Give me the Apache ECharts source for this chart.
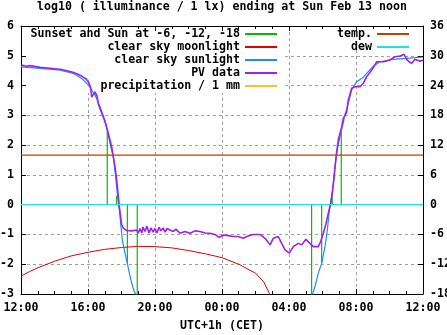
<!DOCTYPE html>
<html><head><meta charset="utf-8">
<script src="https://cdn.jsdelivr.net/npm/echarts@6/dist/echarts.min.js"></script>
<style>html,body{margin:0;padding:0;background:#fff}#c{width:447px;height:335px}</style>
</head><body><div id="c"></div>
<script>
// hours after Sat 12:00 (CET)
const xTickLabels = ['12:00','16:00','20:00','00:00','04:00','08:00','12:00'];

const sunEventHours  = [5.15, 5.71, 6.35, 6.94, 17.35, 17.95, 18.58, 19.12];
const sunEventValues = [2.51, 0.30, -1.97, -3.5, -3.5, -1.97, 0.40, 2.45];

const moonHours  = [0, 0.5, 1, 2, 3, 4, 5, 6, 7, 8, 9, 10, 11, 12, 13, 14, 14.5, 14.8, 15.0];
const moonValues = [-2.40, -2.25, -2.12, -1.90, -1.72, -1.60, -1.50, -1.44, -1.40, -1.41, -1.45, -1.54, -1.65, -1.78, -2.00, -2.30, -2.60, -2.95, -3.30];

const sunHours  = [0, 1.13, 2.33, 3.12, 3.62, 4.02, 4.42, 4.72, 5.01, 5.15, 5.31, 5.51, 5.65, 5.77, 5.87, 5.97, 6.05, 6.21, 6.35, 6.47, 6.61, 6.76, 6.87, 7.2,
                   17.2, 17.39, 17.55, 17.75, 17.95, 18.15, 18.29, 18.41, 18.55, 18.65, 18.75, 18.88, 19.04, 19.21, 19.34, 19.54, 19.74, 20.04, 20.44, 20.64, 21.03, 21.43, 22.23, 23.03, 23.82, 24];
const sunValues = [4.63, 4.58, 4.52, 4.41, 4.24, 4.02, 3.68, 3.29, 2.84, 2.51, 2.07, 1.61, 0.94, 0.27, -0.18, -0.74, -1.19, -1.63, -1.97, -2.30, -2.64, -2.92, -3.03, -3.6,
                   -3.6, -3.03, -2.75, -2.30, -1.97, -1.41, -0.85, -0.18, 0.27, 0.72, 1.28, 1.84, 2.28, 2.68, 3.01, 3.40, 3.85, 4.13, 4.28, 4.41, 4.65, 4.80, 4.88, 4.91, 4.95, 4.95];

const pvHours = [0, 0.12, 0.30, 0.54, 1.13, 1.73, 2.33, 2.75, 3.10, 3.40, 3.64, 3.88, 4.00, 4.15, 4.22, 4.32, 4.42, 4.54, 4.61, 4.82, 5.01, 5.21, 5.41, 5.51, 5.61, 5.71, 5.81, 5.87, 5.95, 6.01, 6.11, 6.31, 6.61, 6.91,
  7.00, 7.10, 7.21, 7.28, 7.40, 7.52, 7.64, 7.76, 7.88, 8.00, 8.12, 8.24, 8.36, 8.48, 8.60, 8.72, 8.90, 9.09, 9.25, 9.49, 9.79, 10.09, 10.39, 10.69, 10.99, 11.28, 11.58, 11.82, 12.08, 12.36, 12.67, 12.96, 13.27, 13.55, 13.87,
  14.27, 14.57, 14.87, 15.06, 15.36, 15.56, 15.76, 16.02, 16.26, 16.55, 16.76, 17.01, 17.25, 17.45, 17.75, 17.89, 18.05, 18.21, 18.35, 18.49, 18.61, 18.71, 18.81, 18.94, 19.15, 19.24, 19.44, 19.54, 19.74, 19.94,
  20.24, 20.44, 20.64, 20.94, 21.24, 21.64, 22.03, 22.33, 22.63, 22.87, 23.03, 23.16, 23.33, 23.52, 23.82, 24.0];
const pvValues = [4.66, 4.68, 4.65, 4.67, 4.61, 4.58, 4.55, 4.50, 4.45, 4.38, 4.31, 4.22, 4.15, 3.95, 3.61, 3.63, 3.79, 3.65, 3.40, 3.07, 2.79, 2.40, 1.95, 1.61, 1.28, 0.83, 0.27, -0.07, -0.40, -0.68, -0.79, -0.87, -0.88, -0.85,
  -0.96, -0.80, -0.95, -0.75, -0.90, -0.72, -0.95, -0.78, -0.92, -0.80, -0.95, -0.76, -0.88, -0.78, -0.92, -0.80, -0.85, -0.90, -0.82, -0.96, -0.90, -0.96, -0.88, -0.90, -0.95, -0.96, -1.00, -1.10, -1.02, -1.04, -1.07, -1.07, -1.13, -1.05, -1.00,
  -1.00, -1.13, -1.35, -1.13, -1.07, -1.30, -1.52, -1.63, -1.41, -1.30, -1.35, -1.16, -1.30, -1.41, -1.41, -1.24, -0.96, -0.63, -0.29, 0.05, 0.49, 1.05, 1.61, 2.17, 2.62, 2.90, 3.10, 3.51, 3.91, 3.96,
  3.96, 4.08, 4.30, 4.52, 4.80, 4.80, 4.86, 4.97, 4.99, 5.05, 4.88, 4.80, 4.75, 4.88, 4.82, 4.85];

const precipHours = [];
const precipValues = [];

const tempHours  = [0, 24];
const tempValues = [10, 10];
const dewHours   = [0, 24];
const dewValues  = [0, 0];

const zip = (a, b) => a.map((v, i) => [v, b[i]]);
const impulses = [];
sunEventHours.forEach((h, i) => { impulses.push([h, 0], [h, sunEventValues[i]], [h, null]); });

const FONT = 'DejaVu Sans Mono';
const txt = { fontFamily: FONT, fontWeight: 'bold', fontSize: 11.6, color: '#000' };

const names = ['Sunset and Sun at -6, -12, -18', 'clear sky moonlight', 'clear sky sunlight', 'PV data', 'precipitation / 1 mm', 'temp.', 'dew'];
const colors = ['#00c000', '#e00000', '#1a8cff', '#a020f0', '#ffc020', '#c04000', '#20e0e0'];

function legendAt(name, right, yc) {
  return { data: [name], right: right, top: yc - 7, align: 'right', orient: 'horizontal', icon: 'rect',
    itemWidth: 32, itemHeight: 2, itemGap: 0, padding: 0, selectedMode: false, textStyle: txt };
}

const chart = echarts.init(document.getElementById('c'), null, { renderer: 'canvas' });
chart.setOption({
  animation: false,
  backgroundColor: '#fff',
  color: colors,
  title: { text: 'log10 ( illuminance / 1 lx) ending at Sun Feb 13 noon', left: 222, top: 1, textAlign: 'center', padding: 0,
    textStyle: Object.assign({}, txt) },
  grid: { left: 21, right: 24, top: 26, bottom: 41, containLabel: false, outerBoundsMode: 'none' },
  legend: [
    legendAt(names[0], 170, 35), legendAt(names[1], 170, 48), legendAt(names[2], 170, 61),
    legendAt(names[3], 170, 74), legendAt(names[4], 170, 87),
    legendAt(names[5], 38, 35), legendAt(names[6], 38, 48)
  ],
  graphic: [
    { type: 'rect', shape: { x: 26, y: 32, width: 258, height: 61 }, style: { fill: '#fff' }, z: 1, silent: true },
    { type: 'rect', shape: { x: 300, y: 32, width: 118, height: 15 }, style: { fill: '#fff' }, z: 1, silent: true }
  ],
  xAxis: [
    { type: 'value', min: 0, max: 24, interval: 4, position: 'bottom',
      name: 'UTC+1h (CET)', nameLocation: 'middle', nameGap: 26, nameTextStyle: txt,
      axisLine: { show: true, onZero: false, lineStyle: { color: '#000', width: 1 } },
      axisTick: { show: true, inside: true, length: 5, lineStyle: { color: '#000' } },
      minorTick: { show: true, splitNumber: 4, length: 3, lineStyle: { color: '#000' } },
      axisLabel: Object.assign({ margin: 8, formatter: v => xTickLabels[Math.round(v / 4)] }, txt),
      splitLine: { show: true, lineStyle: { color: '#a0a0a0', type: [3, 3], width: 1 } } },
    { type: 'value', min: 0, max: 24, interval: 4, position: 'top',
      axisLine: { show: true, onZero: false, lineStyle: { color: '#000', width: 1 } },
      axisTick: { show: true, inside: true, length: 5, lineStyle: { color: '#000' } },
      minorTick: { show: true, splitNumber: 4, length: 3, lineStyle: { color: '#000' } },
      axisLabel: { show: false }, splitLine: { show: false } }
  ],
  yAxis: [
    { type: 'value', min: -3, max: 6, interval: 1, position: 'left',
      axisLine: { show: true, onZero: false, lineStyle: { color: '#000', width: 1 } },
      axisTick: { show: true, inside: true, length: 5, lineStyle: { color: '#000' } },
      axisLabel: Object.assign({ margin: 7 }, txt),
      splitLine: { show: true, lineStyle: { color: '#a0a0a0', type: [3, 3], width: 1 } } },
    { type: 'value', min: -18, max: 36, interval: 6, position: 'right',
      axisLine: { show: true, onZero: false, lineStyle: { color: '#000', width: 1 } },
      axisTick: { show: true, inside: true, length: 5, lineStyle: { color: '#000' } },
      axisLabel: Object.assign({ margin: 7 }, txt),
      splitLine: { show: false } }
  ],
  series: [
    { name: names[0], type: 'line', data: impulses, symbol: 'none', connectNulls: false, lineStyle: { width: 1.2, color: colors[0] }, itemStyle: { color: colors[0] } },
    { name: names[1], type: 'line', data: zip(moonHours, moonValues), symbol: 'none', lineStyle: { width: 1, color: colors[1] }, itemStyle: { color: colors[1] } },
    { name: names[2], type: 'line', data: zip(sunHours, sunValues), symbol: 'none', lineStyle: { width: 1.2, color: colors[2] }, itemStyle: { color: colors[2] } },
    { name: names[3], type: 'line', data: zip(pvHours, pvValues), symbol: 'none', lineStyle: { width: 1.6, color: colors[3] }, itemStyle: { color: colors[3] } },
    { name: names[4], type: 'line', data: zip(precipHours, precipValues), symbol: 'none', lineStyle: { width: 1, color: colors[4] }, itemStyle: { color: colors[4] } },
    { name: names[5], type: 'line', yAxisIndex: 1, data: zip(tempHours, tempValues), symbol: 'none', lineStyle: { width: 1.2, color: colors[5] }, itemStyle: { color: colors[5] } },
    { name: names[6], type: 'line', yAxisIndex: 1, data: zip(dewHours, dewValues), symbol: 'none', lineStyle: { width: 1.2, color: colors[6] }, itemStyle: { color: colors[6] } }
  ]
});
</script>
</body></html>
